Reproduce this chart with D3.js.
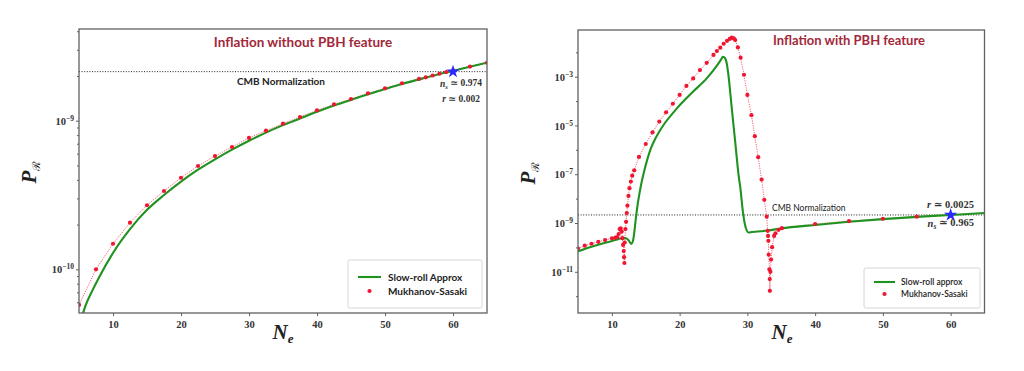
<!DOCTYPE html>
<html><head><meta charset="utf-8">
<script src="https://cdn.jsdelivr.net/npm/d3@7"></script>
<style>body{margin:0;background:#fff}svg{display:block}</style>
</head><body>
<svg id="c" width="1024" height="371"></svg>
<script>
// ---------- data (log10 of P_R) ----------
const xTicks = [10, 20, 30, 40, 50, 60];
const leftYMajor = [-10, -9];
const rightYMajor = [-11, -9, -7, -5, -3];
const cmbLevel = -8.67;           // CMB normalization, log10
const pivotN = 60;

// left: inflation without PBH feature
const leftSR_N   = [5, 5.6, 6, 7, 8, 10, 12.5, 15, 17.5, 20, 22.5, 25, 27.5, 30, 32.5, 35, 37.5, 40, 42.5, 45, 47.5, 50, 52.5, 55, 57.5, 60, 62.5, 65];
const leftSR_log = [-10.38, -10.294, -10.24, -10.14, -10.05, -9.89, -9.73, -9.60, -9.50, -9.41, -9.33, -9.26, -9.195, -9.135, -9.08, -9.03, -8.985, -8.94, -8.898, -8.86, -8.822, -8.787, -8.753, -8.722, -8.692, -8.665, -8.637, -8.61];
const leftMS_N   = [5, 7.5, 10, 12.5, 15, 17.5, 20, 22.5, 25, 27.5, 30, 32.5, 35, 37.5, 40, 42.5, 45, 47.5, 50, 52.5, 55, 56, 57, 58, 59, 60, 62.5, 65];
const leftMS_log = [-10.24, -10.0, -9.828, -9.686, -9.569, -9.473, -9.384, -9.305, -9.238, -9.177, -9.116, -9.067, -9.020, -8.975, -8.930, -8.890, -8.854, -8.816, -8.782, -8.748, -8.719, -8.708, -8.696, -8.684, -8.673, -8.662, -8.636, -8.610];

// right: inflation with PBH feature
const rightSR_N   = [5, 7, 9, 10, 11, 11.7, 12.2, 12.5, 12.85, 13.1, 13.3, 13.5, 13.7, 14.0, 14.3, 14.7, 15.2, 15.7, 16.1, 17.0, 17.6, 19.6, 22.0, 24.0, 25.5, 26.1, 26.4, 26.7, 26.95, 27.2, 27.7, 28.2, 28.7, 29.0, 29.3, 29.65, 29.9, 30.2, 30.65, 33.0, 35, 40, 45, 50, 55, 60, 65];
const rightSR_log = [-10.16, -9.97, -9.81, -9.74, -9.66, -9.61, -9.64, -9.72, -9.86, -9.75, -9.40, -8.90, -8.45, -7.90, -7.45, -6.95, -6.42, -5.98, -5.72, -5.25, -4.99, -4.30, -3.61, -3.07, -2.55, -2.30, -2.18, -2.24, -2.45, -2.93, -4.30, -5.66, -7.03, -7.64, -8.45, -9.07, -9.30, -9.39, -9.37, -9.31, -9.22, -9.08, -8.95, -8.84, -8.75, -8.67, -8.59];
const rightMS_N   = [5, 6, 7, 8, 9, 10, 10.5, 10.8, 11.0, 11.15, 11.3, 11.45, 11.55, 11.65, 11.75, 11.8, 11.85, 11.9, 12.0, 12.1, 12.2, 12.3, 12.45, 12.6, 12.8, 13.0, 13.3, 14, 15, 16, 17, 18, 19, 20, 21, 22, 23, 24, 25, 25.5, 26, 26.5, 27, 27.4, 27.7, 28.0, 28.2, 28.6, 29.0, 29.5, 30.0, 30.6, 31.1, 31.6, 32.1, 32.5, 32.85, 33.0, 33.05, 33.1, 33.15, 33.25, 33.3, 33.32, 33.4, 33.5, 33.65, 33.95, 34.15, 34.6, 35.1, 40, 45, 50, 55, 60];
const rightMS_log = [-10.05, -9.93, -9.85, -9.77, -9.70, -9.63, -9.60, -9.58, -9.45, -9.25, -9.22, -9.35, -9.62, -9.90, -10.15, -10.40, -10.64, -9.80, -9.25, -8.95, -8.59, -8.29, -7.89, -7.57, -7.30, -7.06, -6.84, -6.29, -5.76, -5.28, -4.84, -4.46, -4.11, -3.75, -3.38, -3.07, -2.73, -2.43, -2.11, -1.95, -1.81, -1.65, -1.53, -1.45, -1.40, -1.43, -1.50, -1.80, -2.22, -2.92, -3.75, -4.58, -5.44, -6.30, -7.22, -8.05, -8.74, -9.32, -9.53, -9.73, -10.3, -10.9, -11.3, -11.78, -11.0, -10.5, -9.99, -9.53, -9.42, -9.28, -9.21, -9.04, -8.92, -8.83, -8.74, -8.67];

// ---------- drawing ----------
const svg = d3.select("#c");
const GREEN = "#1f921f", RED = "#f01530", TITLE = "#a3283a", FRAME = "#606060";
const serif = "'Liberation Serif','DejaVu Serif',serif";
const sans = "Lato,'Open Sans','DejaVu Sans',sans-serif";

function panel(cfg) {
  const g = svg.append("g");
  const x = d3.scaleLinear().domain([5, 65]).range([cfg.x0, cfg.x1]);
  const y = d3.scaleLog().domain([10 ** cfg.yLo, 10 ** cfg.yHi]).range([cfg.y1, cfg.y0]);
  const id = "clip" + cfg.name;
  svg.append("clipPath").attr("id", id).append("rect")
    .attr("x", cfg.x0).attr("y", cfg.y0).attr("width", cfg.x1 - cfg.x0).attr("height", cfg.y1 - cfg.y0);

  const xAxis = d3.axisBottom(x).tickValues(xTicks).tickSize(3).tickFormat(d3.format("d"));
  const gx = g.append("g").attr("transform", `translate(0,${cfg.y1})`).call(xAxis);
  gx.select(".domain").remove();
  gx.selectAll("line").attr("stroke", FRAME);
  gx.selectAll("text").attr("font-family", serif).attr("font-weight", "bold").attr("font-size", 10.5).attr("fill", "#333").attr("dy", "0.9em");

  const majors = cfg.yMajor.map(e => 10 ** e);
  const yAxis = d3.axisLeft(y).tickValues(majors).tickSize(3).tickFormat("");
  const gy = g.append("g").attr("transform", `translate(${cfg.x0},0)`).call(yAxis);
  gy.select(".domain").remove();
  gy.selectAll("line").attr("stroke", FRAME);
  gy.selectAll(".tick").append("text")
    .attr("x", -5).attr("dy", "0.35em").attr("text-anchor", "end")
    .attr("font-family", serif).attr("font-weight", "bold").attr("font-size", 10.5).attr("fill", "#333")
    .each(function (d) {
      const t = d3.select(this);
      t.append("tspan").text("10");
      t.append("tspan").attr("font-size", 7.5).attr("dy", "-0.55em").text("\u2212" + Math.round(-Math.log10(d)));
    });
  const gm = g.append("g").attr("transform", `translate(${cfg.x0},0)`)
    .call(d3.axisLeft(y).tickValues(cfg.yMinor).tickSize(2).tickFormat(""));
  gm.select(".domain").remove();
  gm.selectAll("line").attr("stroke", FRAME);

  g.append("line").attr("x1", cfg.x0).attr("x2", cfg.x1)
    .attr("y1", y(10 ** cmbLevel)).attr("y2", y(10 ** cmbLevel))
    .attr("stroke", "#222").attr("stroke-width", 1).attr("stroke-dasharray", "1,1.6");

  const plot = g.append("g").attr("clip-path", `url(#${id})`);
  const ms = cfg.msN.map((n, i) => ({ n, p: 10 ** cfg.msLog[i] }));
  const sr = cfg.srN.map((n, i) => ({ n, p: 10 ** cfg.srLog[i] }));
  const line = d3.line().x(d => x(d.n)).y(d => y(d.p));

  plot.append("path").datum(ms).attr("d", line.curve(d3.curveLinear))
    .attr("fill", "none").attr("stroke", RED).attr("stroke-opacity", 0.85).attr("stroke-width", 0.8).attr("stroke-dasharray", "1.2,1.2");
  plot.append("path").datum(sr).attr("d", line.curve(d3.curveMonotoneX))
    .attr("fill", "none").attr("stroke", GREEN).attr("stroke-width", 2.1);
  plot.selectAll("circle.ms").data(ms).join("circle").attr("class", "ms")
    .attr("cx", d => x(d.n)).attr("cy", d => y(d.p)).attr("r", 2.1).attr("fill", RED);

  plot.append("path").attr("d", d3.symbol(d3.symbolStar, 55)())
    .attr("transform", `translate(${x(pivotN)},${y(10 ** cmbLevel)})`).attr("fill", "#2a2aff");

  g.append("rect").attr("x", cfg.x0).attr("y", cfg.y0).attr("width", cfg.x1 - cfg.x0).attr("height", cfg.y1 - cfg.y0)
    .attr("fill", "none").attr("stroke", FRAME).attr("stroke-width", 1.3);

  g.append("text").attr("x", cfg.titleX).attr("y", cfg.titleY).attr("text-anchor", "middle")
    .attr("font-family", sans).attr("font-weight", "bold").attr("font-size", cfg.titleSize).attr("fill", TITLE).text(cfg.title);

  g.append("text").attr("x", cfg.cmbX).attr("y", cfg.cmbY)
    .attr("font-family", sans).attr("font-weight", cfg.cmbWeight).attr("font-size", cfg.cmbSize).attr("fill", "#222").text("CMB Normalization");

  cfg.notes.forEach(nt => {
    const t = g.append("text").attr("x", nt.x).attr("y", nt.y).attr("text-anchor", "end")
      .attr("font-family", serif).attr("font-weight", "bold").attr("font-size", nt.size).attr("fill", "#333");
    t.append("tspan").attr("font-style", "italic").text(nt.v);
    if (nt.sub) t.append("tspan").attr("font-style", "italic").attr("font-size", nt.size * 0.7).attr("dy", "0.3em").text(nt.sub);
    t.append("tspan").attr("dy", nt.sub ? "-0.3em" : 0).text(" \u2243 " + nt.val);
  });

  const xl = g.append("text").attr("x", cfg.xLabX).attr("y", 339).attr("text-anchor", "middle")
    .attr("font-family", serif).attr("font-style", "italic").attr("font-weight", "bold").attr("font-size", 21).attr("fill", "#222");
  xl.append("tspan").text("N");
  xl.append("tspan").attr("font-size", 13).attr("dy", "0.3em").text("e");
  const yl = g.append("text").attr("transform", `translate(${cfg.yLabX},${cfg.yLabY}) rotate(-90)`).attr("text-anchor", "middle")
    .attr("font-family", serif).attr("font-style", "italic").attr("font-weight", "bold").attr("font-size", 21).attr("fill", "#222");
  yl.append("tspan").text("P");
  yl.append("tspan").attr("font-size", 11).attr("font-style", "normal").attr("font-weight", "normal").attr("dy", "0.35em").text("\u211B");

  const L = cfg.leg;
  g.append("rect").attr("x", L.x).attr("y", L.y).attr("width", L.w).attr("height", L.h).attr("rx", 2)
    .attr("fill", "#fff").attr("stroke", "#d6d6d6").attr("stroke-width", 1);
  g.append("line").attr("x1", L.x + L.lx0).attr("x2", L.x + L.lx1).attr("y1", L.y + L.r1).attr("y2", L.y + L.r1)
    .attr("stroke", GREEN).attr("stroke-width", 2.1);
  g.append("circle").attr("cx", L.x + (L.lx0 + L.lx1) / 2).attr("cy", L.y + L.r2).attr("r", 2.1).attr("fill", RED);
  [[cfg.legText[0], L.r1], [cfg.legText[1], L.r2]].forEach(([s, yy]) => {
    g.append("text").attr("x", L.x + L.tx).attr("y", L.y + yy).attr("dy", "0.35em")
      .attr("font-family", sans).attr("font-weight", L.weight).attr("font-size", L.size).attr("fill", "#222").text(s);
  });
}

function minorDecades(lo, hi) {
  const out = [];
  for (let e = Math.floor(lo); e <= Math.ceil(hi); e++)
    for (let k = 2; k <= 9; k++) { const v = Math.log10(k) + e; if (v > lo && v < hi) out.push(10 ** v); }
  return out;
}

panel({
  name: "L", x0: 79, x1: 487, y0: 29, y1: 313, yLo: -10.294, yHi: -8.383,
  yMajor: leftYMajor, yMinor: minorDecades(-10.294, -8.383),
  srN: leftSR_N, srLog: leftSR_log, msN: leftMS_N, msLog: leftMS_log,
  title: "Inflation without PBH feature", titleX: 303, titleY: 47, titleSize: 13.5,
  cmbX: 237, cmbY: 85, cmbSize: 10, cmbWeight: "bold",
  notes: [{ v: "n", sub: "s", val: "0.974", x: 482, y: 87, size: 9.5 }, { v: "r", val: "0.002", x: 480, y: 102, size: 9.5 }],
  xLabX: 283, yLabX: 36, yLabY: 172,
  leg: { x: 348, y: 260, w: 134, h: 48, lx0: 10, lx1: 33, tx: 40, r1: 17, r2: 31, size: 10, weight: "bold" },
  legText: ["Slow-roll Approx", "Mukhanov-Sasaki"]
});
panel({
  name: "R", x0: 578, x1: 984.5, y0: 30, y1: 313, yLo: -12.69, yHi: -1.086,
  yMajor: rightYMajor, yMinor: [-12, -10, -8, -6, -4, -2].map(e => 10 ** e),
  srN: rightSR_N, srLog: rightSR_log, msN: rightMS_N, msLog: rightMS_log,
  title: "Inflation with PBH feature", titleX: 849, titleY: 45, titleSize: 13,
  cmbX: 772, cmbY: 211, cmbSize: 8.5, cmbWeight: "normal",
  notes: [{ v: "r", val: "0.0025", x: 974, y: 208, size: 10.5 }, { v: "n", sub: "s", val: "0.965", x: 974, y: 227, size: 10.5 }],
  xLabX: 782, yLabX: 535, yLabY: 173,
  leg: { x: 864, y: 268, w: 116, h: 40, lx0: 10, lx1: 31, tx: 37, r1: 14, r2: 26, size: 8.5, weight: "600" },
  legText: ["Slow-roll approx", "Mukhanov-Sasaki"]
});
</script>
</body></html>
